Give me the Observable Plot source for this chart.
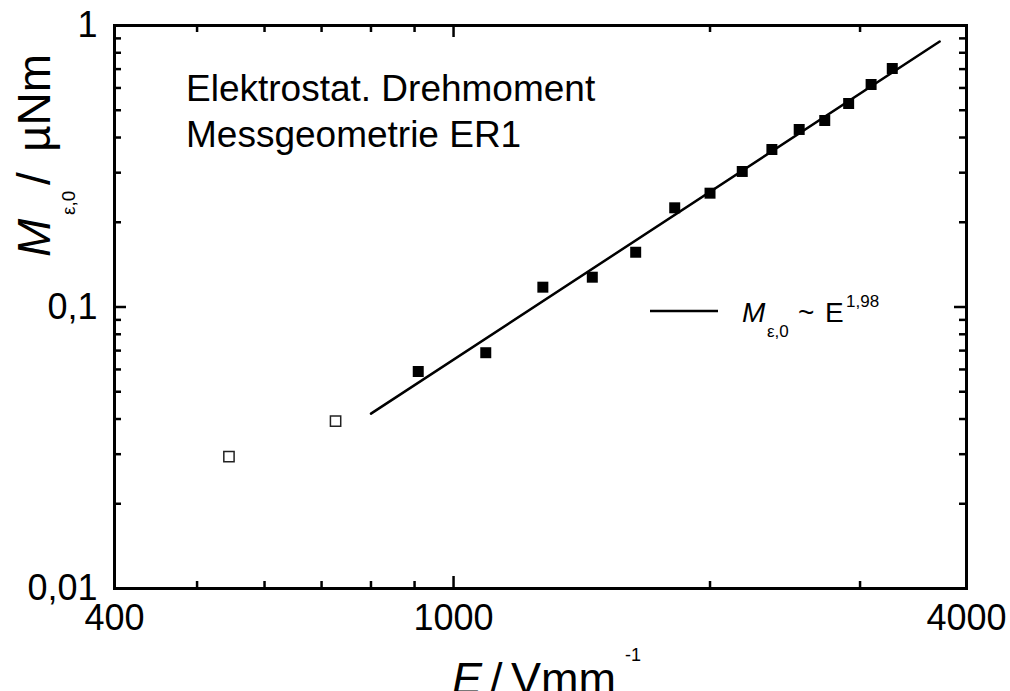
<!DOCTYPE html>
<html>
<head>
<meta charset="utf-8">
<script src="https://cdn.jsdelivr.net/npm/d3@7"></script>
<script src="https://cdn.jsdelivr.net/npm/@observablehq/plot@0.6"></script>
<style>
  html, body { margin: 0; padding: 0; background: #fff; }
  #chart svg { display: block; }
</style>
</head>
<body>
<div id="chart"></div>
<script>
// Field strength E (V/mm) and electrostatic torque M (µNm)
const openE = [545, 727];
const openM = [0.0294, 0.0393];
const fillE = [909, 1091, 1273, 1455, 1636, 1818, 2000, 2182, 2364, 2545, 2727, 2909, 3091, 3273];
const fillM = [0.0590, 0.0688, 0.1176, 0.1276, 0.1565, 0.2251, 0.2537, 0.3030, 0.3626, 0.4272, 0.4598, 0.5284, 0.6172, 0.7034];

// Power-law fit M ~ E^1.98, drawn between its two end points
const fitE = [800, 3720];
const fitM = [0.0418, 0.877];

// Axis ticks
const xLabelTicks = [400, 1000, 4000];
const xMajorTicks = [400, 1000, 4000];
const xMinorTicks = [500, 600, 700, 800, 900, 2000, 3000];
const yLabelTicks = [0.01, 0.1, 1];
const yMajorTicks = [0.01, 0.1, 1];
const yMinorTicks = [0.02, 0.03, 0.04, 0.05, 0.06, 0.07, 0.08, 0.09, 0.2, 0.3, 0.4, 0.5, 0.6, 0.7, 0.8, 0.9];

const W = 1010, H = 691;
const mL = 114, mR = 44, mT = 25, mB = 103;
const innerW = W - mL - mR, innerH = H - mT - mB;
const majorLen = 12, minorLen = 7;
const font = '"Liberation Sans", Arial, Helvetica, sans-serif';

const openData = openE.map((e, i) => ({E: e, M: openM[i]}));
const fillData = fillE.map((e, i) => ({E: e, M: fillM[i]}));
const fitData = fitE.map((e, i) => ({E: e, M: fitM[i]}));

const tickStyle = {stroke: "black", strokeWidth: 2.5};

const chart = Plot.plot({
  width: W,
  height: H,
  marginLeft: mL,
  marginRight: mR,
  marginTop: mT,
  marginBottom: mB,
  style: {fontFamily: font, color: "black", background: "white", overflow: "visible"},
  x: {type: "log", domain: [400, 4000]},
  y: {type: "log", domain: [0.01, 1]},
  marks: [
    // inward ticks on all four sides
    Plot.tickX(xMajorTicks, {x: d => d, insetTop: innerH - majorLen, ...tickStyle}),
    Plot.tickX(xMinorTicks, {x: d => d, insetTop: innerH - minorLen, ...tickStyle}),
    Plot.tickX(xMajorTicks, {x: d => d, insetBottom: innerH - majorLen, ...tickStyle}),
    Plot.tickX(xMinorTicks, {x: d => d, insetBottom: innerH - minorLen, ...tickStyle}),
    Plot.tickY(yMajorTicks, {y: d => d, insetRight: innerW - majorLen, ...tickStyle}),
    Plot.tickY(yMinorTicks, {y: d => d, insetRight: innerW - minorLen, ...tickStyle}),
    Plot.tickY(yMajorTicks, {y: d => d, insetLeft: innerW - majorLen, ...tickStyle}),
    Plot.tickY(yMinorTicks, {y: d => d, insetLeft: innerW - minorLen, ...tickStyle}),
    Plot.frame({stroke: "black", strokeWidth: 3}),
    Plot.axisX({ticks: xLabelTicks, tickSize: 0, tickPadding: 16, fontSize: 36,
      tickFormat: d => String(d), label: null}),
    Plot.axisY({ticks: yLabelTicks, tickSize: 0, tickPadding: 17, fontSize: 36,
      tickFormat: d => String(d).replace(".", ","), label: null}),
    Plot.line(fitData, {x: "E", y: "M", stroke: "black", strokeWidth: 2.5}),
    Plot.dot(openData, {x: "E", y: "M", symbol: "square", r: 5.8, fill: "white", stroke: "#222", strokeWidth: 1.5}),
    Plot.dot(fillData, {x: "E", y: "M", symbol: "square", r: 6.2, fill: "black", stroke: "none"})
  ]
});

document.getElementById("chart").appendChild(chart);

// Rich-text labels (italics, sub- and superscripts) and the legend
const svg = d3.select(chart);
const g = svg.append("g")
  .attr("font-family", font)
  .attr("fill", "black")
  .attr("text-anchor", "start");

// annotation
g.append("text").attr("x", 186).attr("y", 101).attr("font-size", 37).text("Elektrostat. Drehmoment");
g.append("text").attr("x", 186).attr("y", 147).attr("font-size", 37).text("Messgeometrie ER1");

// x-axis title: E / Vmm^-1
const xt = g.append("text").attr("font-size", 45);
xt.append("tspan").attr("x", 452).attr("y", 694).attr("font-style", "italic").text("E");
xt.append("tspan").attr("x", 490).attr("y", 694).text("/");
xt.append("tspan").attr("x", 511).attr("y", 694).text("Vmm");
xt.append("tspan").attr("x", 625).attr("y", 661).attr("font-size", 18).text("-1");

// y-axis title: M_ε,0 / µNm (rotated)
const yt = g.append("text").attr("font-size", 46)
  .attr("transform", "translate(50,0) rotate(-90)");
yt.append("tspan").attr("x", -257).attr("y", 0).attr("font-style", "italic").text("M");
yt.append("tspan").attr("x", -215).attr("y", 25).attr("font-size", 19).text("ε,0");
yt.append("tspan").attr("x", -185).attr("y", 0).text("/");
yt.append("tspan").attr("x", -152).attr("y", 0).text("µNm");

// legend
g.append("line").attr("x1", 650).attr("x2", 718).attr("y1", 311).attr("y2", 311)
  .attr("stroke", "black").attr("stroke-width", 2.5);
const lt = g.append("text").attr("font-size", 28);
lt.append("tspan").attr("x", 742).attr("y", 322).attr("font-style", "italic").text("M");
lt.append("tspan").attr("x", 767).attr("y", 337).attr("font-size", 17).text("ε,0");
lt.append("tspan").attr("x", 798).attr("y", 322).text("~");
lt.append("tspan").attr("x", 825).attr("y", 322).text("E");
lt.append("tspan").attr("x", 846).attr("y", 307).attr("font-size", 17).text("1,98");
</script>
</body>
</html>
